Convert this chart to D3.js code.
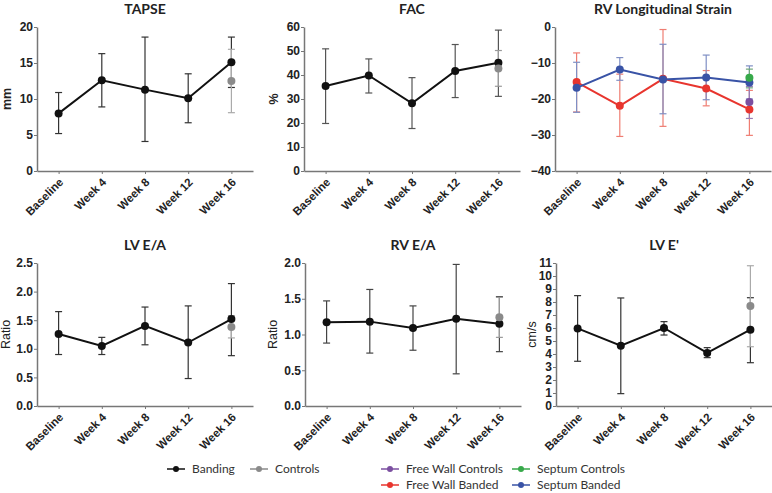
<!DOCTYPE html>
<html>
<head>
<meta charset="utf-8">
<script src="https://cdn.jsdelivr.net/npm/d3@7"></script>
<style>
  body { margin: 0; background: #fff; }
  svg { display: block; }
  .tick text { font-family: "Liberation Sans", Arial, sans-serif; font-weight: bold; fill: #222; }
  .domain, .tick line { stroke: #777; }
</style>
</head>
<body>
<svg width="772" height="493"></svg>
<script>
const categories = ['Baseline', 'Week 4', 'Week 8', 'Week 12', 'Week 16'];

// TAPSE (mm) - banding, controls only at week 16 [mean, low, high]
const tapseMean = [8.0, 12.6, 11.3, 10.1, 15.1];
const tapseLow = [5.2, 8.9, 4.1, 6.7, 11.6];
const tapseHigh = [10.9, 16.3, 18.6, 13.5, 18.6];
const tapseControls = [12.5, 8.1, 16.9];
const tapseTicks = [0, 5, 10, 15, 20];

// FAC (%)
const facMean = [35.4, 39.8, 28.2, 41.7, 45.1];
const facLow = [19.8, 32.5, 17.7, 30.6, 31.1];
const facHigh = [50.9, 46.7, 38.9, 52.7, 58.7];
const facControls = [42.7, 35.3, 50.2];
const facTicks = [0, 10, 20, 30, 40, 50, 60];

// RV longitudinal strain
const fwBandedMean = [-15.3, -21.9, -14.4, -17.1, -22.9];
const fwBandedLow = [-23.6, -30.4, -27.6, -21.9, -30.1];
const fwBandedHigh = [-7.2, -13.1, -0.7, -12.1, -17.6];
const septBandedMean = [-16.9, -11.8, -14.6, -14.0, -15.4];
const septBandedLow = [-23.7, -14.8, -24.1, -20.2, -20.0];
const septBandedHigh = [-9.8, -8.5, -4.8, -7.8, -10.8];
const fwControls = [-20.8, -25.4, -16.5];
const septControls = [-14.1, -16.9, -11.7];
const strainTicks = [0, -10, -20, -30, -40];

// LV E/A
const lvEaMean = [1.26, 1.05, 1.40, 1.11, 1.52];
const lvEaLow = [0.90, 0.90, 1.07, 0.48, 0.88];
const lvEaHigh = [1.65, 1.20, 1.73, 1.75, 2.14];
const lvEaControls = [1.38, 1.19, 1.58];
const lvEaTicks = [0, 0.5, 1.0, 1.5, 2.0, 2.5];

// RV E/A
const rvEaMean = [1.17, 1.18, 1.09, 1.22, 1.15];
const rvEaLow = [0.88, 0.74, 0.78, 0.45, 0.76];
const rvEaHigh = [1.47, 1.63, 1.40, 1.98, 1.53];
const rvEaControls = [1.24, 0.96, 1.52];
const rvEaTicks = [0, 0.5, 1.0, 1.5, 2.0];

// LV E' (cm/s)
const lvEpMean = [5.97, 4.64, 6.00, 4.08, 5.87];
const lvEpLow = [3.44, 0.95, 5.46, 3.72, 3.33];
const lvEpHigh = [8.49, 8.31, 6.49, 4.49, 8.33];
const lvEpControls = [7.69, 4.56, 10.79];
const lvEpTicks = d3.range(0, 12);

const svg = d3.select('svg');

// build per-point rows from the arrays
function rows(mean, low, high) {
  return categories.map((c, i) => ({cat: c, mean: mean[i], low: low[i], high: high[i]}));
}
function single(v) {
  return [{cat: categories[4], mean: v[0], low: v[1], high: v[2]}];
}

const BLACK = '#111', GREY = '#8a8a8a';
const RED = '#e8352e', BLUE = '#3953a6', PURPLE = '#7b4fa0', GREEN = '#37a94a';

const panels = [
  {title: 'TAPSE', label: 'mm', bold: true, left: 37, top: 27, bottom: 171, domain: [0, 20], ticks: tapseTicks, fmt: d3.format('d'), labelOff: 30,
   series: [
     {data: rows(tapseMean, tapseLow, tapseHigh), color: BLACK, err: '#333', line: true},
     {data: single(tapseControls), color: GREY, err: '#aaa'}
   ]},
  {title: 'FAC', label: '%', bold: true, left: 304, top: 27, bottom: 171, domain: [0, 60], ticks: facTicks, fmt: d3.format('d'), labelOff: 30,
   series: [
     {data: rows(facMean, facLow, facHigh), color: BLACK, err: '#555', line: true},
     {data: single(facControls), color: GREY, err: '#999'}
   ]},
  {title: 'RV Longitudinal Strain', label: '', left: 555, top: 27, bottom: 171, domain: [-40, 0], ticks: strainTicks, fmt: d3.format('d'), labelOff: 30,
   series: [
     {data: rows(fwBandedMean, fwBandedLow, fwBandedHigh), color: RED, err: '#ef7d72', line: true},
     {data: rows(septBandedMean, septBandedLow, septBandedHigh), color: BLUE, err: '#7f8fc4', line: true},
     {data: single(septControls), color: GREEN, err: '#6fa67a'},
     {data: single(fwControls), color: PURPLE, err: '#9a7db5'}
   ]},
  {title: 'LV E/A', label: 'Ratio', left: 37, top: 263, bottom: 406, domain: [0, 2.5], ticks: lvEaTicks, fmt: d3.format('.1f'), labelOff: 31,
   series: [
     {data: rows(lvEaMean, lvEaLow, lvEaHigh), color: BLACK, err: '#333', line: true},
     {data: single(lvEaControls), color: GREY, err: '#aaa'}
   ]},
  {title: 'RV E/A', label: 'Ratio', left: 305, top: 263, bottom: 406, domain: [0, 2.0], ticks: rvEaTicks, fmt: d3.format('.1f'), labelOff: 32,
   series: [
     {data: rows(rvEaMean, rvEaLow, rvEaHigh), color: BLACK, err: '#444', line: true},
     {data: single(rvEaControls), color: GREY, err: '#999'}
   ]},
  {title: "LV E'", label: 'cm/s', left: 556, top: 263, bottom: 406, domain: [0, 11], ticks: lvEpTicks, fmt: d3.format('d'), labelOff: 24,
   series: [
     {data: rows(lvEpMean, lvEpLow, lvEpHigh), color: BLACK, err: '#333', line: true},
     {data: single(lvEpControls), color: GREY, err: '#aaa'}
   ]}
];

panels.forEach(p => {
  const g = svg.append('g');
  const x = d3.scalePoint().domain(categories).range([p.left, p.left + 216]).padding(0.5);
  const y = d3.scaleLinear().domain(p.domain).range([p.bottom, p.top]);

  const xAxis = g.append('g')
      .attr('transform', `translate(0,${p.bottom})`)
      .call(d3.axisBottom(x).tickSize(3).tickSizeOuter(0));
  xAxis.selectAll('text')
      .attr('x', 0).attr('y', 0).attr('dy', '0.35em')
      .attr('text-anchor', 'end')
      .attr('transform', 'translate(2,9) rotate(-45)')
      .style('font-size', '11.5px');

  const yAxis = g.append('g')
      .attr('transform', `translate(${p.left},0)`)
      .call(d3.axisLeft(y).tickValues(p.ticks).tickFormat(p.fmt).tickSize(3).tickPadding(1).tickSizeOuter(0));
  yAxis.selectAll('text').style('font-size', '12px');

  g.selectAll('.domain').attr('stroke-width', 1.5);

  g.append('text')
      .attr('x', p.left + 108).attr('y', p.top - 13)
      .attr('text-anchor', 'middle')
      .style('font-family', 'Lato, sans-serif').style('font-weight', 'bold').style('font-size', '14px')
      .attr('fill', '#222')
      .text(p.title);

  if (p.label) {
    g.append('text')
        .attr('transform', `translate(${p.left - p.labelOff},${(p.top + p.bottom) / 2}) rotate(-90)`)
        .attr('text-anchor', 'middle').attr('dy', '0.35em')
        .style('font-family', '"Liberation Sans", Arial, sans-serif')
        .style('font-weight', p.bold ? 'bold' : 'normal').style('font-size', '12.5px')
        .attr('fill', '#222')
        .text(p.label);
  }

  const line = d3.line().x(d => x(d.cat)).y(d => y(d.mean));

  // error bars first
  p.series.forEach(s => {
    const eb = g.append('g').attr('stroke', s.err).attr('stroke-width', 1.2);
    eb.selectAll('line.v').data(s.data).join('line')
        .attr('x1', d => x(d.cat)).attr('x2', d => x(d.cat))
        .attr('y1', d => y(d.low)).attr('y2', d => y(d.high));
    ['low', 'high'].forEach(k => {
      eb.selectAll('line.' + k).data(s.data).join('line').attr('class', k)
          .attr('x1', d => x(d.cat) - 3.5).attr('x2', d => x(d.cat) + 3.5)
          .attr('y1', d => y(d[k])).attr('y2', d => y(d[k]));
    });
  });

  p.series.forEach(s => {
    if (s.line) {
      g.append('path').datum(s.data)
          .attr('fill', 'none').attr('stroke', s.color).attr('stroke-width', 2)
          .attr('d', line);
    }
    g.selectAll(null).data(s.data).join('circle')
        .attr('cx', d => x(d.cat)).attr('cy', d => y(d.mean))
        .attr('r', 4).attr('fill', s.color);
  });
});

// legend
const legendItems = [
  {name: 'Banding', color: BLACK, x: 167, y: 469},
  {name: 'Controls', color: GREY, x: 250, y: 469},
  {name: 'Free Wall Controls', color: PURPLE, x: 381, y: 469},
  {name: 'Septum Controls', color: GREEN, x: 512, y: 469},
  {name: 'Free Wall Banded', color: RED, x: 381, y: 485},
  {name: 'Septum Banded', color: BLUE, x: 512, y: 485}
];
const lg = svg.append('g').selectAll('g').data(legendItems).join('g')
    .attr('transform', d => `translate(${d.x},${d.y})`);
lg.append('line').attr('x1', 0).attr('x2', 18)
    .attr('stroke', d => d.color).attr('stroke-width', 1.5);
lg.append('circle').attr('cx', 9).attr('r', 3).attr('fill', d => d.color);
lg.append('text').attr('x', 25).attr('dy', '0.35em')
    .style('font-family', 'Lato, sans-serif').style('font-size', '12px')
    .attr('fill', '#333')
    .text(d => d.name);
</script>
</body>
</html>
